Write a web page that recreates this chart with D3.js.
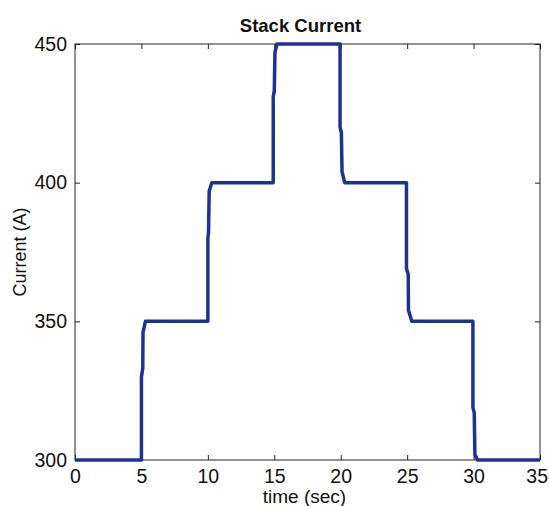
<!DOCTYPE html>
<html>
<head>
<meta charset="utf-8">
<script src="https://cdn.jsdelivr.net/npm/d3@7"></script>
<style>
  html, body { margin: 0; padding: 0; background: #fff; }
  svg { display: block; font-family: "Liberation Sans", Arial, sans-serif; }
</style>
</head>
<body>
<svg id="chart" width="549" height="506"></svg>
<script>
// Stack current vs. time: step changes every 5 s with short ramps
const timeSec = [0, 5.0, 5.0, 5.1, 5.12, 5.3,
                 10.0, 10.0, 10.05, 10.1, 10.3,
                 14.92, 14.92, 15.0, 15.05, 15.2,
                 19.95, 19.95, 20.05, 20.1, 20.3,
                 24.95, 24.95, 25.08, 25.1, 25.35,
                 29.95, 29.95, 30.05, 30.1, 30.3, 35];
const currentA = [300, 300, 330, 333, 346, 350,
                  350, 380, 382, 397, 400,
                  400, 431, 433, 447, 450,
                  450, 420, 418, 404, 400,
                  400, 369, 367, 354, 350,
                  350, 319, 317, 302, 300, 300];

const xTicks = [0, 5, 10, 15, 20, 25, 30, 35];
const yTicks = [300, 350, 400, 450];

const titleText = "Stack Current";
const xLabel = "time (sec)";
const yLabel = "Current (A)";

const margin = { top: 44, right: 9, bottom: 46, left: 75 };
const W = 549, H = 506;
const innerW = W - margin.left - margin.right;
const innerH = H - margin.top - margin.bottom;

const svg = d3.select("#chart");
const g = svg.append("g").attr("transform", `translate(${margin.left},${margin.top})`);

const x = d3.scaleLinear().domain([0, 35]).range([0, innerW]);
const y = d3.scaleLinear().domain([300, 450]).range([innerH, 0]);

const tickLen = 5;
const fontSize = 19.5;

// bottom axis with labels
const xAxis = g.append("g").attr("transform", `translate(0,${innerH})`)
  .call(d3.axisBottom(x).tickValues(xTicks).tickSize(-tickLen).tickPadding(9).tickFormat(d3.format("d")));
// top mirror ticks
const xAxisTop = g.append("g")
  .call(d3.axisTop(x).tickValues(xTicks).tickSize(-tickLen).tickFormat(""));
// left axis with labels
const yAxis = g.append("g")
  .call(d3.axisLeft(y).tickValues(yTicks).tickSize(-tickLen).tickPadding(8).tickFormat(d3.format("d")));
// right mirror ticks
const yAxisRight = g.append("g").attr("transform", `translate(${innerW},0)`)
  .call(d3.axisRight(y).tickValues(yTicks).tickSize(-tickLen).tickFormat(""));

[xAxis, xAxisTop, yAxis, yAxisRight].forEach(a => {
  a.select(".domain").remove();
  a.selectAll(".tick line").attr("stroke", "#222").attr("stroke-width", 1);
  a.selectAll(".tick text").attr("fill", "#111").style("font-size", fontSize + "px");
});
// keep the last x label inside the canvas edge
xAxis.selectAll(".tick text").filter(d => d === 35).attr("text-anchor", "end").attr("dx", "7.5px");

// plot box
g.append("rect")
  .attr("x", 0).attr("y", 0).attr("width", innerW).attr("height", innerH)
  .attr("fill", "none").attr("stroke", "#222").attr("stroke-width", 1);

// current trace
const pts = timeSec.map((t, i) => [t, currentA[i]]);
g.append("path")
  .datum(pts)
  .attr("fill", "none")
  .attr("stroke", "#1c3390")
  .attr("stroke-width", 3.5)
  .attr("stroke-linejoin", "round")
  .attr("stroke-linecap", "butt")
  .attr("d", d3.line().x(d => x(d[0])).y(d => y(d[1])));

// title
svg.append("text")
  .attr("x", margin.left + innerW / 2 - 7).attr("y", 32)
  .attr("text-anchor", "middle")
  .style("font-size", "18.5px").style("font-weight", "bold").attr("fill", "#111")
  .text(titleText);

// axis labels
svg.append("text")
  .attr("x", margin.left + innerW / 2 - 3).attr("y", 503)
  .attr("text-anchor", "middle")
  .style("font-size", "19px").attr("fill", "#111")
  .text(xLabel);

svg.append("text")
  .attr("transform", `translate(26,${margin.top + innerH / 2}) rotate(-90)`)
  .attr("text-anchor", "middle")
  .style("font-size", "18px").attr("fill", "#111")
  .text(yLabel);
</script>
</body>
</html>
